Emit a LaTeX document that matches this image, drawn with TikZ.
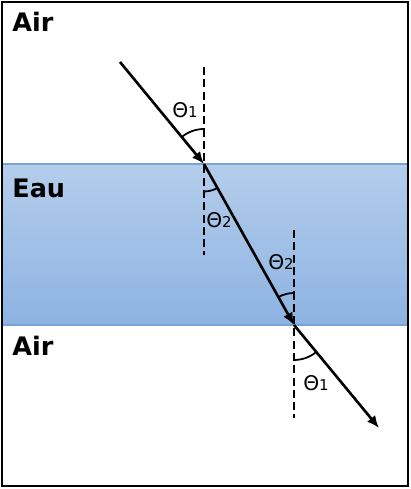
\documentclass[tikz,border=0pt]{standalone}
\usepackage{fontspec}
\setmainfont{DejaVu Sans}
\usetikzlibrary{arrows.meta}

\definecolor{eauhaut}{HTML}{B4CDEB}
\definecolor{eaubas}{HTML}{8DB3E2}
\definecolor{eaubord}{HTML}{79A3D6}

\newcommand{\angtheta}[1]{Θ{\fontsize{8.5}{10}\selectfont #1}}

\begin{document}
\begin{tikzpicture}[x=0.02cm,y=0.02cm,
		rayon/.style={line width=1.5pt,-{Latex[length=7pt,width=6pt]}},
		normale/.style={line width=1.5pt,dash pattern=on 4.6pt off 2.4pt},
		angle/.style={line width=1pt},
		milieu/.style={font=\fontsize{14.5}{17}\selectfont\bfseries,anchor=west,inner sep=0pt},
		etiquette/.style={font=\fontsize{11.5}{14}\selectfont,inner sep=0pt}]
	\useasboundingbox (0,0) rectangle (410,489);

	% milieux
	\fill[white] (2,3) rectangle (408,487);
	\shade[top color=eauhaut,bottom color=eaubas] (2,164) rectangle (408,325);
	\draw[eaubord,line width=0.8pt] (2,164) -- (408,164) (2,325) -- (408,325);
	\draw[line width=1pt] (2,3) rectangle (408,487);

	\node[milieu] (air1) at (12,467) {Air};
	\node[milieu] (eau) at (12,301) {Eau};
	\node[milieu] (air2) at (12,143) {Air};

	% points du rayon
	\coordinate (A) at (120,427);
	\coordinate (P) at (204,325);
	\coordinate (Q) at (294,164);
	\coordinate (B) at (379,61);

	% normales
	\coordinate (n1h) at (204,422);
	\coordinate (n1b) at (204,234);
	\coordinate (n2h) at (294,259);
	\coordinate (n2b) at (294,71);
	\draw[normale] (n1h) -- (n1b);
	\draw[normale] (n2h) -- (n2b);

	% rayon
	\draw[rayon] (A) -- (P);
	\draw[rayon] (P) -- (Q);
	\draw[rayon] (Q) -- (B);

	% angles
	\draw[angle] (P) ++(90:0.7cm) arc[start angle=90,end angle=129.5,radius=0.7cm];
	\draw[angle] (P) ++(270:0.55cm) arc[start angle=270,end angle=299.2,radius=0.55cm];
	\draw[angle] (Q) ++(90:0.64cm) arc[start angle=90,end angle=119.2,radius=0.64cm];
	\draw[angle] (Q) ++(270:0.7cm) arc[start angle=270,end angle=309.8,radius=0.7cm];

	\node[etiquette] (t1h) at (185,379) {\angtheta{1}};
	\node[etiquette] (t2g) at (219,269) {\angtheta{2}};
	\node[etiquette] (t2d) at (281,227) {\angtheta{2}};
	\node[etiquette] (t1b) at (316,106) {\angtheta{1}};
\end{tikzpicture}
\end{document}
